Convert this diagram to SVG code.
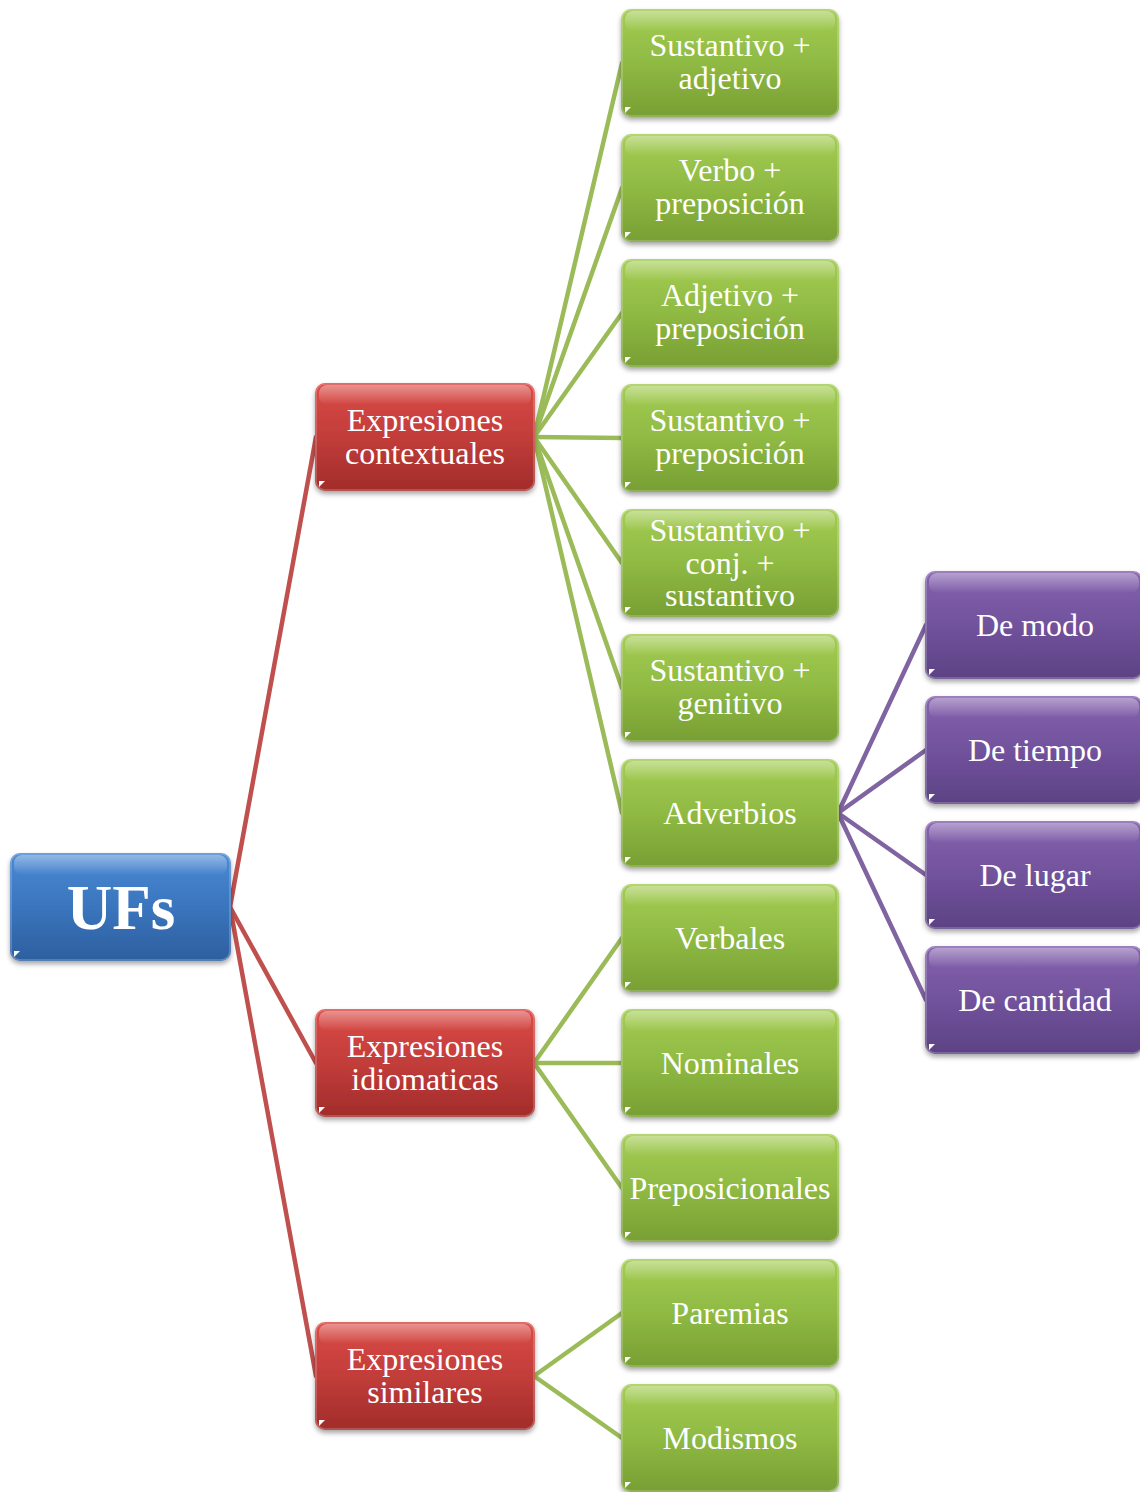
<svg xmlns="http://www.w3.org/2000/svg" width="1140" height="1492" viewBox="0 0 1140 1492">
  <defs>
    <linearGradient id="gBlue" x1="0" y1="0" x2="0" y2="1">
      <stop offset="0" stop-color="#4a8ad4"/>
      <stop offset="0.5" stop-color="#3a75bd"/>
      <stop offset="1" stop-color="#2d5f9f"/>
    </linearGradient>
    <linearGradient id="gRed" x1="0" y1="0" x2="0" y2="1">
      <stop offset="0" stop-color="#da4a46"/>
      <stop offset="0.5" stop-color="#c23d3a"/>
      <stop offset="1" stop-color="#a12c2a"/>
    </linearGradient>
    <linearGradient id="gGreen" x1="0" y1="0" x2="0" y2="1">
      <stop offset="0" stop-color="#a3cc52"/>
      <stop offset="0.5" stop-color="#8fba43"/>
      <stop offset="1" stop-color="#779f33"/>
    </linearGradient>
    <linearGradient id="gPurple" x1="0" y1="0" x2="0" y2="1">
      <stop offset="0" stop-color="#8562ae"/>
      <stop offset="0.5" stop-color="#71529c"/>
      <stop offset="1" stop-color="#5c4284"/>
    </linearGradient>
    <linearGradient id="gShine" x1="0" y1="0" x2="0" y2="1">
      <stop offset="0" stop-color="#ffffff" stop-opacity="0.4"/>
      <stop offset="1" stop-color="#ffffff" stop-opacity="0"/>
    </linearGradient>
    <filter id="shadow" x="-10%" y="-10%" width="120%" height="130%">
      <feDropShadow dx="0" dy="3" stdDeviation="2.5" flood-color="#000" flood-opacity="0.35"/>
    </filter>
  </defs>
  <style>
    .box { filter: url(#shadow); }
    .blue { fill: url(#gBlue); }
    .red { fill: url(#gRed); }
    .green { fill: url(#gGreen); }
    .purple { fill: url(#gPurple); }
    .shine { fill: url(#gShine); }
    .rim { fill: none; stroke: #ffffff; stroke-opacity: 0.25; stroke-width: 1.5; }
    .tri { fill: #ffffff; }
    text { font-family: "Liberation Serif", "Times New Roman", serif; fill: #ffffff; text-anchor: middle; font-size: 32px; }
    .big { font-size: 63px; font-weight: bold; }
    .links line { stroke-width: 4.5; stroke-linecap: round; }
    .lr { stroke: #c0504d; }
    .lg { stroke: #9bbb59; }
    .lp { stroke: #8064a2; }
  </style>

  <!-- connectors -->
  <g id="connectors" class="links">
    <line class="lr" x1="230" y1="907" x2="316" y2="437"/>
    <line class="lr" x1="230" y1="907" x2="316" y2="1063"/>
    <line class="lr" x1="230" y1="907" x2="316" y2="1376"/>

    <line class="lg" x1="534" y1="437" x2="622" y2="63"/>
    <line class="lg" x1="534" y1="437" x2="622" y2="188"/>
    <line class="lg" x1="534" y1="437" x2="622" y2="313"/>
    <line class="lg" x1="534" y1="437" x2="622" y2="438"/>
    <line class="lg" x1="534" y1="437" x2="622" y2="563"/>
    <line class="lg" x1="534" y1="437" x2="622" y2="688"/>
    <line class="lg" x1="534" y1="437" x2="622" y2="813"/>

    <line class="lg" x1="534" y1="1063" x2="622" y2="938"/>
    <line class="lg" x1="534" y1="1063" x2="622" y2="1063"/>
    <line class="lg" x1="534" y1="1063" x2="622" y2="1188"/>

    <line class="lg" x1="534" y1="1376" x2="622" y2="1313"/>
    <line class="lg" x1="534" y1="1376" x2="622" y2="1438"/>

    <line class="lp" x1="838" y1="813" x2="926" y2="625"/>
    <line class="lp" x1="838" y1="813" x2="926" y2="750"/>
    <line class="lp" x1="838" y1="813" x2="926" y2="875"/>
    <line class="lp" x1="838" y1="813" x2="926" y2="1000"/>
  </g>

  <!-- root -->
  <g id="ufs" transform="translate(10,853)">
    <rect class="box blue" width="221" height="108" rx="10"/>
    <rect class="shine" x="4" y="2" width="213" height="20" rx="8"/>
    <rect class="rim" x="1" y="1" width="219" height="106" rx="9"/>
    <polygon class="tri" points="4,104 4,98 10,98"/>
    <text class="big" x="111" y="76">UFs</text>
  </g>

  <!-- level 1 -->
  <g id="contextuales" transform="translate(315,383)">
    <rect class="box red" width="220" height="108" rx="10"/>
    <rect class="shine" x="4" y="2" width="212" height="20" rx="8"/>
    <rect class="rim" x="1" y="1" width="218" height="106" rx="9"/>
    <polygon class="tri" points="4,104 4,98 10,98"/>
    <text x="110" y="48">Expresiones</text>
    <text x="110" y="81">contextuales</text>
  </g>
  <g id="idiomaticas" transform="translate(315,1009)">
    <rect class="box red" width="220" height="108" rx="10"/>
    <rect class="shine" x="4" y="2" width="212" height="20" rx="8"/>
    <rect class="rim" x="1" y="1" width="218" height="106" rx="9"/>
    <polygon class="tri" points="4,104 4,98 10,98"/>
    <text x="110" y="48">Expresiones</text>
    <text x="110" y="81">idiomaticas</text>
  </g>
  <g id="similares" transform="translate(315,1322)">
    <rect class="box red" width="220" height="108" rx="10"/>
    <rect class="shine" x="4" y="2" width="212" height="20" rx="8"/>
    <rect class="rim" x="1" y="1" width="218" height="106" rx="9"/>
    <polygon class="tri" points="4,104 4,98 10,98"/>
    <text x="110" y="48">Expresiones</text>
    <text x="110" y="81">similares</text>
  </g>

  <!-- level 2 -->
  <g id="sust-adj" transform="translate(621,9)">
    <rect class="box green" width="218" height="108" rx="10"/>
    <rect class="shine" x="4" y="2" width="210" height="20" rx="8"/>
    <rect class="rim" x="1" y="1" width="216" height="106" rx="9"/>
    <polygon class="tri" points="4,104 4,98 10,98"/>
    <text x="109" y="47">Sustantivo +</text>
    <text x="109" y="80">adjetivo</text>
  </g>
  <g id="verbo-prep" transform="translate(621,134)">
    <rect class="box green" width="218" height="108" rx="10"/>
    <rect class="shine" x="4" y="2" width="210" height="20" rx="8"/>
    <rect class="rim" x="1" y="1" width="216" height="106" rx="9"/>
    <polygon class="tri" points="4,104 4,98 10,98"/>
    <text x="109" y="47">Verbo +</text>
    <text x="109" y="80">preposición</text>
  </g>
  <g id="adj-prep" transform="translate(621,259)">
    <rect class="box green" width="218" height="108" rx="10"/>
    <rect class="shine" x="4" y="2" width="210" height="20" rx="8"/>
    <rect class="rim" x="1" y="1" width="216" height="106" rx="9"/>
    <polygon class="tri" points="4,104 4,98 10,98"/>
    <text x="109" y="47">Adjetivo +</text>
    <text x="109" y="80">preposición</text>
  </g>
  <g id="sust-prep" transform="translate(621,384)">
    <rect class="box green" width="218" height="108" rx="10"/>
    <rect class="shine" x="4" y="2" width="210" height="20" rx="8"/>
    <rect class="rim" x="1" y="1" width="216" height="106" rx="9"/>
    <polygon class="tri" points="4,104 4,98 10,98"/>
    <text x="109" y="47">Sustantivo +</text>
    <text x="109" y="80">preposición</text>
  </g>
  <g id="sust-conj-sust" transform="translate(621,509)">
    <rect class="box green" width="218" height="108" rx="10"/>
    <rect class="shine" x="4" y="2" width="210" height="20" rx="8"/>
    <rect class="rim" x="1" y="1" width="216" height="106" rx="9"/>
    <polygon class="tri" points="4,104 4,98 10,98"/>
    <text x="109" y="32">Sustantivo +</text>
    <text x="109" y="65">conj. +</text>
    <text x="109" y="97">sustantivo</text>
  </g>
  <g id="sust-gen" transform="translate(621,634)">
    <rect class="box green" width="218" height="108" rx="10"/>
    <rect class="shine" x="4" y="2" width="210" height="20" rx="8"/>
    <rect class="rim" x="1" y="1" width="216" height="106" rx="9"/>
    <polygon class="tri" points="4,104 4,98 10,98"/>
    <text x="109" y="47">Sustantivo +</text>
    <text x="109" y="80">genitivo</text>
  </g>
  <g id="adverbios" transform="translate(621,759)">
    <rect class="box green" width="218" height="108" rx="10"/>
    <rect class="shine" x="4" y="2" width="210" height="20" rx="8"/>
    <rect class="rim" x="1" y="1" width="216" height="106" rx="9"/>
    <polygon class="tri" points="4,104 4,98 10,98"/>
    <text x="109" y="65">Adverbios</text>
  </g>
  <g id="verbales" transform="translate(621,884)">
    <rect class="box green" width="218" height="108" rx="10"/>
    <rect class="shine" x="4" y="2" width="210" height="20" rx="8"/>
    <rect class="rim" x="1" y="1" width="216" height="106" rx="9"/>
    <polygon class="tri" points="4,104 4,98 10,98"/>
    <text x="109" y="65">Verbales</text>
  </g>
  <g id="nominales" transform="translate(621,1009)">
    <rect class="box green" width="218" height="108" rx="10"/>
    <rect class="shine" x="4" y="2" width="210" height="20" rx="8"/>
    <rect class="rim" x="1" y="1" width="216" height="106" rx="9"/>
    <polygon class="tri" points="4,104 4,98 10,98"/>
    <text x="109" y="65">Nominales</text>
  </g>
  <g id="preposicionales" transform="translate(621,1134)">
    <rect class="box green" width="218" height="108" rx="10"/>
    <rect class="shine" x="4" y="2" width="210" height="20" rx="8"/>
    <rect class="rim" x="1" y="1" width="216" height="106" rx="9"/>
    <polygon class="tri" points="4,104 4,98 10,98"/>
    <text x="109" y="65">Preposicionales</text>
  </g>
  <g id="paremias" transform="translate(621,1259)">
    <rect class="box green" width="218" height="108" rx="10"/>
    <rect class="shine" x="4" y="2" width="210" height="20" rx="8"/>
    <rect class="rim" x="1" y="1" width="216" height="106" rx="9"/>
    <polygon class="tri" points="4,104 4,98 10,98"/>
    <text x="109" y="65">Paremias</text>
  </g>
  <g id="modismos" transform="translate(621,1384)">
    <rect class="box green" width="218" height="108" rx="10"/>
    <rect class="shine" x="4" y="2" width="210" height="20" rx="8"/>
    <rect class="rim" x="1" y="1" width="216" height="106" rx="9"/>
    <polygon class="tri" points="4,104 4,98 10,98"/>
    <text x="109" y="65">Modismos</text>
  </g>

  <!-- level 3 -->
  <g id="de-modo" transform="translate(925,571)">
    <rect class="box purple" width="218" height="108" rx="10"/>
    <rect class="shine" x="4" y="2" width="210" height="20" rx="8"/>
    <rect class="rim" x="1" y="1" width="216" height="106" rx="9"/>
    <polygon class="tri" points="4,104 4,98 10,98"/>
    <text x="110" y="65">De modo</text>
  </g>
  <g id="de-tiempo" transform="translate(925,696)">
    <rect class="box purple" width="218" height="108" rx="10"/>
    <rect class="shine" x="4" y="2" width="210" height="20" rx="8"/>
    <rect class="rim" x="1" y="1" width="216" height="106" rx="9"/>
    <polygon class="tri" points="4,104 4,98 10,98"/>
    <text x="110" y="65">De tiempo</text>
  </g>
  <g id="de-lugar" transform="translate(925,821)">
    <rect class="box purple" width="218" height="108" rx="10"/>
    <rect class="shine" x="4" y="2" width="210" height="20" rx="8"/>
    <rect class="rim" x="1" y="1" width="216" height="106" rx="9"/>
    <polygon class="tri" points="4,104 4,98 10,98"/>
    <text x="110" y="65">De lugar</text>
  </g>
  <g id="de-cantidad" transform="translate(925,946)">
    <rect class="box purple" width="218" height="108" rx="10"/>
    <rect class="shine" x="4" y="2" width="210" height="20" rx="8"/>
    <rect class="rim" x="1" y="1" width="216" height="106" rx="9"/>
    <polygon class="tri" points="4,104 4,98 10,98"/>
    <text x="110" y="65">De cantidad</text>
  </g>
</svg>
